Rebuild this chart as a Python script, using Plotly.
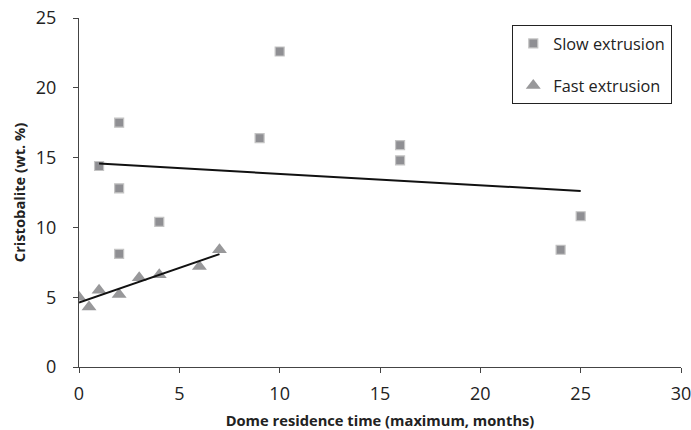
import numpy as np
import plotly.graph_objects as go

slow_x = [1, 2, 2, 2, 4, 9, 10, 16, 16, 24, 25]
slow_y = [14.4, 17.5, 12.8, 8.1, 10.4, 16.4, 22.6, 15.9, 14.8, 8.4, 10.8]
fast_x = [0, 0.5, 1, 2, 3, 4, 6, 7]
fast_y = [5.0, 4.3, 5.5, 5.2, 6.4, 6.6, 7.2, 8.4]

x_ticks = [0, 5, 10, 15, 20, 25, 30]
y_ticks = [0, 5, 10, 15, 20, 25]

FONT = "Open Sans"

fig = go.Figure()
fig.add_trace(go.Scatter(
    x=slow_x, y=slow_y, mode="markers", name="Slow extrusion",
    legendgroup="a",
    marker=dict(symbol="square", size=9, color="#8f8f93",
                line=dict(color="#c4c4c4", width=1.2)),
))
fig.add_trace(go.Scatter(
    x=fast_x, y=fast_y, mode="markers", name="Fast extrusion",
    legendgroup="b",
    marker=dict(symbol="triangle-up", size=13, color="#98989a",
                line=dict(color="#98989a", width=0)),
))

for xs, ys in ((slow_x, slow_y), (fast_x, fast_y)):
    m, c = np.polyfit(xs, ys, 1)
    lx = [min(xs), max(xs)]
    fig.add_trace(go.Scatter(
        x=lx, y=[m * v + c for v in lx], mode="lines",
        line=dict(color="#111111", width=2), showlegend=False,
        hoverinfo="skip",
    ))

axis_common = dict(
    showgrid=False, zeroline=False, showline=True, automargin=False,
    linecolor="#444444", linewidth=1.3,
    ticks="outside", ticklen=5, tickcolor="#444444", tickwidth=1.3,
    tickfont=dict(family=FONT, size=18, color="#222222"),
    ticklabeloverflow="allow",
)

fig.update_layout(
    width=691, height=430,
    margin=dict(l=79, r=10, t=18, b=63),
    paper_bgcolor="white", plot_bgcolor="white",
    font=dict(family=FONT, color="#222222"),
    xaxis=dict(range=[0, 30], tickvals=x_ticks, **axis_common,
               ticklabelstandoff=5,
               title=dict(text="<b>Dome residence time (maximum, months)</b>",
                          font=dict(family=FONT, size=14.7, color="#222222"),
                          standoff=14)),
    yaxis=dict(range=[0, 25], tickvals=y_ticks, **axis_common,
               ticklabelstandoff=13,
               title=dict(text="<b>Cristobalite (wt. %)</b>",
                          font=dict(family=FONT, size=14.7, color="#222222"),
                          standoff=6)),
    legend=dict(
        x=0.985, y=0.98, xanchor="right", yanchor="top",
        bordercolor="#222222", borderwidth=1.3, bgcolor="white",
        font=dict(family=FONT, size=16.3, color="#222222"),
        tracegroupgap=18, itemwidth=30,
    ),
)

fig.write_html("out.html",
               config={"displayModeBar": False},
               post_script="document.body.style.margin='0';"
                           "document.body.style.overflow='hidden';")
